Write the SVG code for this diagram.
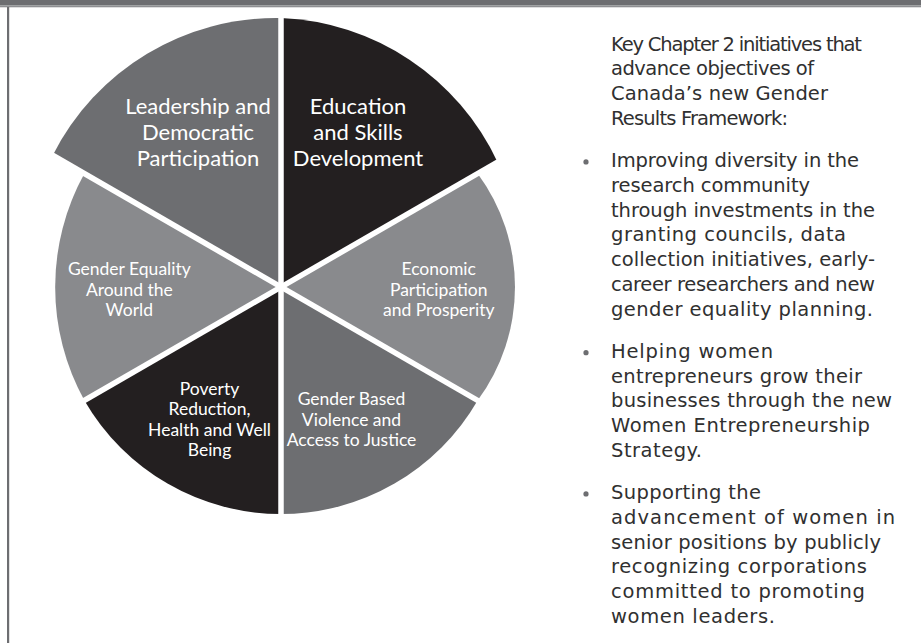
<svg xmlns="http://www.w3.org/2000/svg" width="921" height="643" viewBox="0 0 921 643">
<style>
.dark{fill:#231f20}
.mid{fill:#6d6e71}
.light{fill:#898a8d}
.lbl{font-family:Lato,"Open Sans","Liberation Sans",sans-serif;fill:#ffffff;text-anchor:middle}
.big{font-size:22px}
.small{font-size:17.5px}
.gap{stroke:#ffffff;stroke-width:5.5;fill:none}
.body{font-family:"DejaVu Sans","Liberation Sans",sans-serif;font-size:19.5px;fill:#303030}
.dot{fill:#6d6e71}
</style>
<g id="frame">
<rect x="0" y="0" width="921" height="5.5" fill="#6d6e71"/>
<rect x="0" y="5.5" width="921" height="1.8" fill="#8e8f92"/>
<rect x="7" y="7" width="2.2" height="636" fill="#6d6e71"/>
</g>
<g id="education">
<path class="dark" d="M281,287 L281,18 A250,250 0 0 1 497.5,162 Z"/>
<text class="lbl big" x="358" y="113.5">Education</text>
<text class="lbl big" x="358" y="139.5">and Skills</text>
<text class="lbl big" x="358" y="165.7">Development</text>
</g>
<g id="leadership">
<path class="mid" d="M281,287 L52.8,155.2 A250,250 0 0 1 281,18 Z"/>
<text class="lbl big" x="198" y="113.5">Leadership and</text>
<text class="lbl big" x="198" y="139.5">Democratic</text>
<text class="lbl big" x="198" y="165.7">Participation</text>
</g>
<g id="economic">
<path class="light" d="M281,287 L477.6,173.5 A191,191 0 0 1 477.6,400.5 Z"/>
<text class="lbl small" x="438.7" y="275.3">Economic</text>
<text class="lbl small" x="438.7" y="296">Participation</text>
<text class="lbl small" x="438.7" y="316.3">and Prosperity</text>
</g>
<g id="gender-based">
<path class="mid" d="M281,287 L477.6,400.5 A227,227 0 0 1 281,514 Z"/>
<text class="lbl small" x="351.5" y="405">Gender Based</text>
<text class="lbl small" x="351.5" y="425.7">Violence and</text>
<text class="lbl small" x="351.5" y="445.9">Access to Justice</text>
</g>
<g id="poverty">
<path class="dark" d="M281,287 L281,514 A227,227 0 0 1 84.4,400.5 Z"/>
<text class="lbl small" x="209.5" y="395">Poverty</text>
<text class="lbl small" x="209.5" y="415.3">Reduction,</text>
<text class="lbl small" x="209.5" y="436">Health and Well</text>
<text class="lbl small" x="209.5" y="456.3">Being</text>
</g>
<g id="gender-equality">
<path class="light" d="M281,287 L84.4,400.5 A235,235 0 0 1 84.4,173.5 Z"/>
<text class="lbl small" x="129.3" y="275.3">Gender Equality</text>
<text class="lbl small" x="129.3" y="295.8">Around the</text>
<text class="lbl small" x="129.3" y="316">World</text>
</g>
<g id="connectors">
<line class="gap" x1="281" y1="12" x2="281" y2="525"/>
<line class="gap" x1="21" y1="437" x2="541" y2="137"/>
<line class="gap" x1="21" y1="137" x2="541" y2="437"/>
</g>
<g id="panel">
<text class="body" x="611" y="50.5" textLength="251" lengthAdjust="spacing">Key Chapter 2 initiatives that</text>
<text class="body" x="611" y="75.3" textLength="203" lengthAdjust="spacing">advance objectives of</text>
<text class="body" x="611" y="100.1" textLength="217" lengthAdjust="spacing">Canada’s new Gender</text>
<text class="body" x="611" y="124.9" textLength="177" lengthAdjust="spacing">Results Framework:</text>
<circle class="dot" cx="586" cy="161.9" r="2.6"/>
<text class="body" x="611" y="166.9" textLength="248" lengthAdjust="spacing">Improving diversity in the</text>
<text class="body" x="611" y="191.7" textLength="199" lengthAdjust="spacing">research community</text>
<text class="body" x="611" y="216.5" textLength="264" lengthAdjust="spacing">through investments in the</text>
<text class="body" x="611" y="241.3" textLength="235" lengthAdjust="spacing">granting councils, data</text>
<text class="body" x="611" y="266.1" textLength="264" lengthAdjust="spacing">collection initiatives, early-</text>
<text class="body" x="611" y="290.9" textLength="264" lengthAdjust="spacing">career researchers and new</text>
<text class="body" x="611" y="315.7" textLength="262" lengthAdjust="spacing">gender equality planning.</text>
<circle class="dot" cx="586" cy="352.7" r="2.6"/>
<text class="body" x="611" y="357.7" textLength="162" lengthAdjust="spacing">Helping women</text>
<text class="body" x="611" y="382.5" textLength="251" lengthAdjust="spacing">entrepreneurs grow their</text>
<text class="body" x="611" y="407.3" textLength="281" lengthAdjust="spacing">businesses through the new</text>
<text class="body" x="611" y="432.1" textLength="259" lengthAdjust="spacing">Women Entrepreneurship</text>
<text class="body" x="611" y="456.9" textLength="91" lengthAdjust="spacing">Strategy.</text>
<circle class="dot" cx="586" cy="493.9" r="2.6"/>
<text class="body" x="611" y="498.9" textLength="150" lengthAdjust="spacing">Supporting the</text>
<text class="body" x="611" y="523.7" textLength="284" lengthAdjust="spacing">advancement of women in</text>
<text class="body" x="611" y="548.5" textLength="270" lengthAdjust="spacing">senior positions by publicly</text>
<text class="body" x="611" y="573.3" textLength="256" lengthAdjust="spacing">recognizing corporations</text>
<text class="body" x="611" y="598.1" textLength="254" lengthAdjust="spacing">committed to promoting</text>
<text class="body" x="611" y="622.9" textLength="164" lengthAdjust="spacing">women leaders.</text>
</g>
</svg>
